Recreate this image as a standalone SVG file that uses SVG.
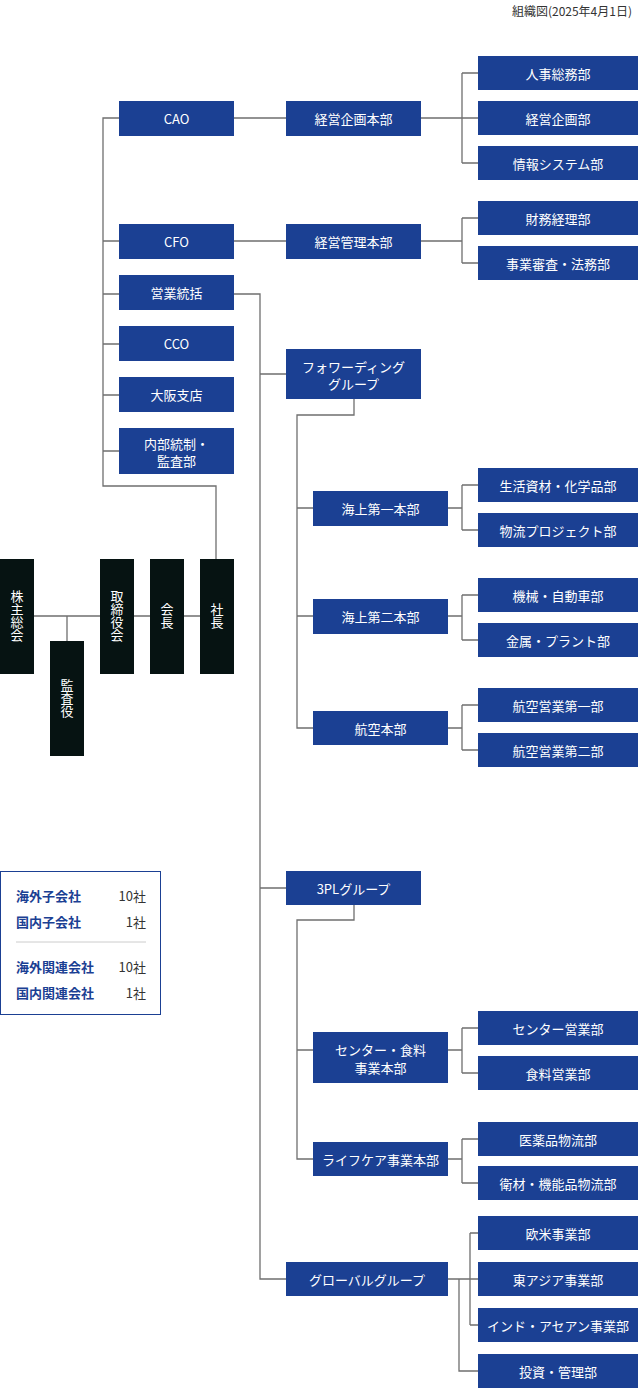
<svg xmlns="http://www.w3.org/2000/svg" width="638" height="1388" viewBox="0 0 638 1388">
<style>
text{font-family:"Noto Sans CJK JP","Noto Sans",sans-serif;font-size:13px;fill:#fff;text-anchor:middle;dominant-baseline:central}
.b{fill:#1b4093}
.k{fill:#061312}
.c{fill:none;stroke:#6f6f6f;stroke-width:1.3}
.lg{fill:#1b4093;font-weight:bold;text-anchor:start}
.ln{fill:#333;text-anchor:end}
</style>
<rect width="638" height="1388" fill="#fff"/>
<text x="632" y="10" style="fill:#333;text-anchor:end;font-size:12px">組織図(2025年4月1日)</text>
<g id="connectors" class="c">
<path d="M216 559V486H103V118H119M103 241H119M103 294H119M103 344H119M103 395H119M103 451H119"/>
<path d="M34 616H200M67 616V641"/>
<path d="M234 118H286M421 118H462M462 73V163M462 73H478M462 118H478M462 163H478"/>
<path d="M234 241H286M421 241H462M462 218V263M462 218H478M462 263H478"/>
<path d="M234 294H260V1279H286M260 374H286M260 888H286"/>
<path d="M354 399V415H297V728H313M297 508H313M297 616H313"/>
<path d="M448 508H462M462 485V530M462 485H478M462 530H478"/>
<path d="M448 616H462M462 595V640M462 595H478M462 640H478"/>
<path d="M448 728H462M462 705V750M462 705H478M462 750H478"/>
<path d="M354 905V920H297V1159H313M297 1050H313"/>
<path d="M448 1050H462M462 1028V1073M462 1028H478M462 1073H478"/>
<path d="M448 1159H462M462 1139V1183M462 1139H478M462 1183H478"/>
<path d="M448 1279H478M470 1233V1325M470 1233H478M470 1325H478M459 1279V1371H478"/>
</g>
<g id="n-kabunushi"><rect class="k" x="0" y="559" width="34" height="115"/><text x="17" y="616" style="writing-mode:vertical-rl;text-orientation:upright;dominant-baseline:auto">株主総会</text></g>
<g id="n-kansayaku"><rect class="k" x="50" y="641" width="34" height="115"/><text x="67" y="698" style="writing-mode:vertical-rl;text-orientation:upright;dominant-baseline:auto">監査役</text></g>
<g id="n-torishimari"><rect class="k" x="100" y="559" width="34" height="115"/><text x="117" y="616" style="writing-mode:vertical-rl;text-orientation:upright;dominant-baseline:auto">取締役会</text></g>
<g id="n-kaicho"><rect class="k" x="150" y="559" width="34" height="115"/><text x="167" y="616" style="writing-mode:vertical-rl;text-orientation:upright;dominant-baseline:auto">会長</text></g>
<g id="n-shacho"><rect class="k" x="200" y="559" width="34" height="115"/><text x="217" y="616" style="writing-mode:vertical-rl;text-orientation:upright;dominant-baseline:auto">社長</text></g>
<g id="n-cao"><rect class="b" x="119" y="101" width="115" height="35"/><text x="176.5" y="118.5">CAO</text></g>
<g id="n-cfo"><rect class="b" x="119" y="224" width="115" height="35"/><text x="176.5" y="241.5">CFO</text></g>
<g id="n-eigyo"><rect class="b" x="119" y="275" width="115" height="35"/><text x="176.5" y="292.5">営業統括</text></g>
<g id="n-cco"><rect class="b" x="119" y="326" width="115" height="35"/><text x="176.5" y="343.5">CCO</text></g>
<g id="n-osaka"><rect class="b" x="119" y="377" width="115" height="35"/><text x="176.5" y="394.5">大阪支店</text></g>
<g id="n-naibu"><rect class="b" x="119" y="428" width="115" height="46"/><text x="176.5" y="443">内部統制・</text><text x="176.5" y="460">監査部</text></g>
<g id="n-keikaku"><rect class="b" x="286" y="101" width="135" height="35"/><text x="353.5" y="118.5">経営企画本部</text></g>
<g id="n-kanri"><rect class="b" x="286" y="224" width="135" height="35"/><text x="353.5" y="241.5">経営管理本部</text></g>
<g id="n-fwd"><rect class="b" x="286" y="349" width="135" height="50"/><text x="353.5" y="366">フォワーディング</text><text x="353.5" y="383">グループ</text></g>
<g id="n-3pl"><rect class="b" x="286" y="871" width="135" height="34"/><text x="353.5" y="888">3PLグループ</text></g>
<g id="n-global"><rect class="b" x="286" y="1262" width="162" height="34"/><text x="367" y="1279">グローバルグループ</text></g>
<g id="n-kaijo1"><rect class="b" x="313" y="491" width="135" height="35"/><text x="380.5" y="508.5">海上第一本部</text></g>
<g id="n-kaijo2"><rect class="b" x="313" y="599" width="135" height="35"/><text x="380.5" y="616.5">海上第二本部</text></g>
<g id="n-koku"><rect class="b" x="313" y="711" width="135" height="34"/><text x="380.5" y="728">航空本部</text></g>
<g id="n-center"><rect class="b" x="313" y="1032" width="135" height="51"/><text x="380.5" y="1049">センター・食料</text><text x="380.5" y="1067">事業本部</text></g>
<g id="n-life"><rect class="b" x="313" y="1142" width="135" height="34"/><text x="380.5" y="1159">ライフケア事業本部</text></g>
<g id="n-r1"><rect class="b" x="478" y="56" width="160" height="34"/><text x="558" y="73">人事総務部</text></g>
<g id="n-r2"><rect class="b" x="478" y="101" width="160" height="34"/><text x="558" y="118">経営企画部</text></g>
<g id="n-r3"><rect class="b" x="478" y="146" width="160" height="34"/><text x="558" y="163">情報システム部</text></g>
<g id="n-r4"><rect class="b" x="478" y="201" width="160" height="34"/><text x="558" y="218">財務経理部</text></g>
<g id="n-r5"><rect class="b" x="478" y="246" width="160" height="34"/><text x="558" y="263">事業審査・法務部</text></g>
<g id="n-r6"><rect class="b" x="478" y="468" width="160" height="34"/><text x="558" y="485">生活資材・化学品部</text></g>
<g id="n-r7"><rect class="b" x="478" y="513" width="160" height="34"/><text x="558" y="530">物流プロジェクト部</text></g>
<g id="n-r8"><rect class="b" x="478" y="578" width="160" height="34"/><text x="558" y="595">機械・自動車部</text></g>
<g id="n-r9"><rect class="b" x="478" y="623" width="160" height="34"/><text x="558" y="640">金属・プラント部</text></g>
<g id="n-r10"><rect class="b" x="478" y="688" width="160" height="34"/><text x="558" y="705">航空営業第一部</text></g>
<g id="n-r11"><rect class="b" x="478" y="733" width="160" height="34"/><text x="558" y="750">航空営業第二部</text></g>
<g id="n-r12"><rect class="b" x="478" y="1011" width="160" height="34"/><text x="558" y="1028">センター営業部</text></g>
<g id="n-r13"><rect class="b" x="478" y="1056" width="160" height="34"/><text x="558" y="1073">食料営業部</text></g>
<g id="n-r14"><rect class="b" x="478" y="1122" width="160" height="34"/><text x="558" y="1139">医薬品物流部</text></g>
<g id="n-r15"><rect class="b" x="478" y="1166" width="160" height="34"/><text x="558" y="1183">衛材・機能品物流部</text></g>
<g id="n-r16"><rect class="b" x="478" y="1216" width="160" height="34"/><text x="558" y="1233">欧米事業部</text></g>
<g id="n-r17"><rect class="b" x="478" y="1262" width="160" height="34"/><text x="558" y="1279">東アジア事業部</text></g>
<g id="n-r18"><rect class="b" x="478" y="1308" width="160" height="34"/><text x="558" y="1325">インド・アセアン事業部</text></g>
<g id="n-r19"><rect class="b" x="478" y="1354" width="160" height="34"/><text x="558" y="1371">投資・管理部</text></g>
<g id="legend">
<rect x="0.5" y="871.5" width="160" height="143" fill="#fff" stroke="#1b4093"/>
<line x1="16" y1="942" x2="146" y2="942" stroke="#ccc"/>
<text class="lg" x="16" y="895">海外子会社</text><text class="ln" x="146" y="895">10社</text>
<text class="lg" x="16" y="921">国内子会社</text><text class="ln" x="146" y="921">1社</text>
<text class="lg" x="16" y="966">海外関連会社</text><text class="ln" x="146" y="966">10社</text>
<text class="lg" x="16" y="992">国内関連会社</text><text class="ln" x="146" y="992">1社</text>
</g>
</svg>
